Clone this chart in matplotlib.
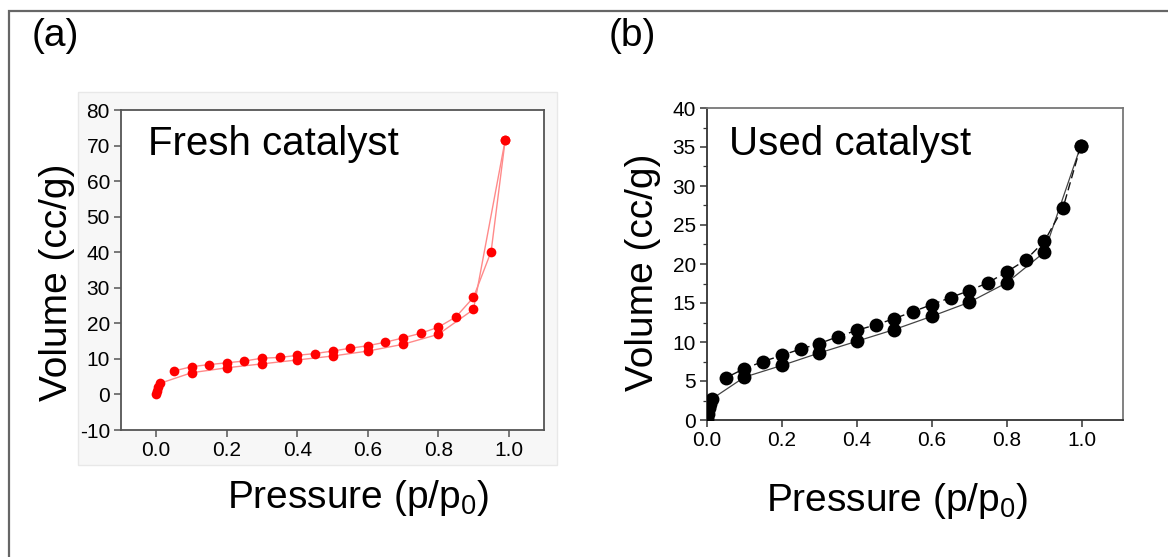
import matplotlib
matplotlib.use("Agg")
import matplotlib.pyplot as plt
import matplotlib.ticker as ticker
from matplotlib.patches import Rectangle

plt.rcParams['font.family'] = ['Liberation Sans', 'DejaVu Sans']
plt.rcParams['mathtext.default'] = 'regular'
plt.rcParams['axes.unicode_minus'] = False

# Fresh catalyst: adsorption (lower) and desorption (upper) branches
fresh_ads_p = [0.0, 0.002, 0.005, 0.01, 0.1, 0.2, 0.3, 0.4, 0.5, 0.6, 0.7, 0.8, 0.9, 0.99]
fresh_ads_v = [0.1, 1.0, 2.2, 3.1, 6.1, 7.5, 8.6, 9.7, 10.8, 12.2, 14.1, 16.9, 23.9, 71.6]
fresh_des_p = [0.99, 0.95, 0.9, 0.85, 0.8, 0.75, 0.7, 0.65, 0.6, 0.55,
               0.5, 0.45, 0.4, 0.35, 0.3, 0.25, 0.2, 0.15, 0.1, 0.05]
fresh_des_v = [71.6, 40.2, 27.3, 21.8, 18.9, 17.2, 15.9, 14.7, 13.7, 13.0,
               12.2, 11.5, 11.0, 10.4, 10.2, 9.4, 8.9, 8.4, 7.8, 6.6]

# Used catalyst
used_ads_p = [0.0005, 0.003, 0.006, 0.009, 0.013, 0.1, 0.2, 0.3, 0.4, 0.5, 0.6, 0.7, 0.8, 0.9, 0.997]
used_ads_v = [0.1, 0.8, 1.5, 2.1, 2.7, 5.5, 7.0, 8.6, 10.1, 11.6, 13.3, 15.1, 17.6, 21.5, 35.1]
used_des_p = [0.997, 0.95, 0.9, 0.85, 0.8, 0.75, 0.7, 0.65, 0.6, 0.55,
              0.5, 0.45, 0.4, 0.35, 0.3, 0.25, 0.2, 0.15, 0.1, 0.05]
used_des_v = [35.1, 27.2, 22.9, 20.5, 19.0, 17.6, 16.6, 15.7, 14.8, 13.9,
              13.0, 12.2, 11.5, 10.7, 9.8, 9.1, 8.3, 7.5, 6.6, 5.4]

x_ticks = [0.0, 0.2, 0.4, 0.6, 0.8, 1.0]

W, H = 1168, 557
fig = plt.figure(figsize=(W / 100, H / 100), dpi=100)
fig.patch.set_facecolor('white')

# outer frame and light grey backdrop behind panel (a)
fig.patches.append(Rectangle((9 / W, -0.05), 1.2, 1 - 11 / H + 0.05, transform=fig.transFigure,
                             fill=False, edgecolor='#666666', lw=1.6, zorder=-5))
fig.patches.append(Rectangle((78 / W, (H - 465) / H), 479 / W, 373 / H, transform=fig.transFigure,
                             facecolor='#f7f7f7', edgecolor='#e8e8e8', lw=1, zorder=-5))

ax1 = fig.add_axes([121 / W, (H - 430) / H, 423 / W, 320 / H])
ax2 = fig.add_axes([707 / W, (H - 420) / H, 416 / W, 312 / H])

# panel (a)
ax1.set_facecolor('white')
ax1.plot(fresh_ads_p, fresh_ads_v, '-', color='#ff8a8a', lw=1.0, zorder=2)
ax1.plot(fresh_des_p, fresh_des_v, '-', color='#ff8a8a', lw=1.0, zorder=2)
ax1.plot(fresh_ads_p, fresh_ads_v, 'o', color='#ff0000', ms=7, mec='none', zorder=3)
ax1.plot(fresh_des_p, fresh_des_v, 'o', color='#ff0000', ms=7, mec='none', zorder=3)
ax1.set_xlim(-0.1, 1.1)
ax1.set_ylim(-10, 80)
ax1.set_xticks(x_ticks)
ax1.yaxis.set_major_locator(ticker.MultipleLocator(10))
for s in ax1.spines.values():
    s.set_color('#555555')
    s.set_linewidth(1.3)
ax1.tick_params(direction='out', length=5, width=1.1, color='#555555', labelsize=15, pad=3)
ax1.text(0.064, 0.859, 'Fresh catalyst', transform=ax1.transAxes, fontsize=29, va='baseline')
ax1.text(-0.151, 0.4625, 'Volume (cc/g)', transform=ax1.transAxes, fontsize=28,
         rotation=90, ha='center', va='center')
ax1.text(0.561, -0.244, 'Pressure (p/p$_0$)', transform=ax1.transAxes, fontsize=28,
         ha='center', va='baseline')

# panel (b)
ax2.plot(used_ads_p, used_ads_v, '-', color='#444444', lw=0.9, zorder=2)
ax2.plot(used_des_p, used_des_v, '--', color='#111111', lw=1.0, dashes=(6, 3), zorder=2)
ax2.plot(used_ads_p, used_ads_v, 'o', color='black', ms=10, mec='none', zorder=3)
ax2.plot(used_des_p, used_des_v, 'o', color='black', ms=10, mec='none', zorder=3)
ax2.set_xlim(0, 1.11)
ax2.set_ylim(0, 40)
ax2.set_xticks(x_ticks)
ax2.yaxis.set_major_locator(ticker.MultipleLocator(5))
ax2.yaxis.set_minor_locator(ticker.AutoMinorLocator(2))
for s in ax2.spines.values():
    s.set_color('#777777')
    s.set_linewidth(1.3)
ax2.spines['left'].set_color('#333333')
ax2.spines['bottom'].set_color('#333333')
ax2.tick_params(direction='out', length=5, width=1.1, color='#333333', labelsize=15, pad=3)
ax2.tick_params(which='minor', direction='out', length=3, width=0.9, color='#333333')
ax2.text(0.053, 0.849, 'Used catalyst', transform=ax2.transAxes, fontsize=29, va='baseline')
ax2.text(-0.154, 0.474, 'Volume (cc/g)', transform=ax2.transAxes, fontsize=28,
         rotation=90, ha='center', va='center')
ax2.text(0.457, -0.292, 'Pressure (p/p$_0$)', transform=ax2.transAxes, fontsize=28,
         ha='center', va='baseline')

fig.text(32 / W, 1 - 36 / H, '(a)', fontsize=28, ha='left', va='center')
fig.text(609 / W, 1 - 36 / H, '(b)', fontsize=28, ha='left', va='center')

fig.savefig('out.png', dpi=100)
